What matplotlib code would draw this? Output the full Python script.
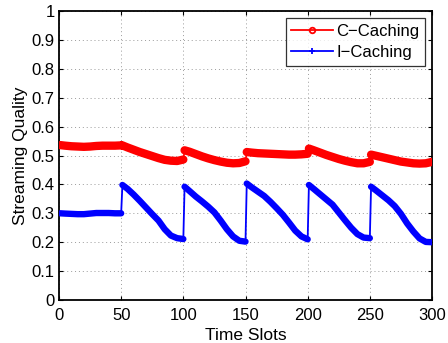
import numpy as np
import matplotlib
matplotlib.use("Agg")
import matplotlib.pyplot as plt
from matplotlib.lines import Line2D

plt.rcParams['font.family'] = ['Liberation Sans', 'DejaVu Sans']

# Time slots sampled (each 50-slot period: start, then every 5 slots)
time_slots = [
    1, 5, 10, 15, 20, 25, 30, 35, 40, 45, 50,
    51, 55, 60, 65, 70, 75, 80, 85, 90, 95, 100,
    101, 105, 110, 115, 120, 125, 130, 135, 140, 145, 150,
    151, 155, 160, 165, 170, 175, 180, 185, 190, 195, 200,
    201, 205, 210, 215, 220, 225, 230, 235, 240, 245, 250,
    251, 255, 260, 265, 270, 275, 280, 285, 290, 295, 300,
]

c_caching = [
    0.536, 0.534, 0.532, 0.531, 0.530, 0.531, 0.533, 0.534, 0.534, 0.534, 0.535,
    0.535, 0.528, 0.520, 0.512, 0.505, 0.498, 0.491, 0.485, 0.482, 0.481, 0.486,
    0.518, 0.513, 0.505, 0.497, 0.490, 0.484, 0.479, 0.475, 0.473, 0.474, 0.480,
    0.512, 0.510, 0.508, 0.507, 0.506, 0.505, 0.504, 0.503, 0.503, 0.504, 0.506,
    0.524, 0.518, 0.510, 0.502, 0.495, 0.488, 0.482, 0.477, 0.473, 0.473, 0.478,
    0.503, 0.499, 0.494, 0.489, 0.484, 0.479, 0.476, 0.473, 0.472, 0.473, 0.478,
]

i_caching = [
    0.300, 0.299, 0.298, 0.297, 0.297, 0.299, 0.301, 0.301, 0.301, 0.300, 0.300,
    0.398, 0.385, 0.365, 0.343, 0.320, 0.297, 0.275, 0.245, 0.223, 0.214, 0.211,
    0.392, 0.377, 0.358, 0.341, 0.323, 0.303, 0.275, 0.245, 0.220, 0.205, 0.202,
    0.403, 0.390, 0.375, 0.360, 0.340, 0.318, 0.295, 0.268, 0.240, 0.220, 0.210,
    0.398, 0.384, 0.366, 0.348, 0.330, 0.303, 0.276, 0.250, 0.228, 0.216, 0.214,
    0.392, 0.379, 0.362, 0.345, 0.325, 0.298, 0.265, 0.237, 0.213, 0.201, 0.200,
]

period_len = 11  # samples per 50-slot period

x_ticks = [0, 50, 100, 150, 200, 250, 300]
y_ticks = [0, 0.1, 0.2, 0.3, 0.4, 0.5, 0.6, 0.7, 0.8, 0.9, 1]
y_tick_labels = ['0', '0.1', '0.2', '0.3', '0.4', '0.5', '0.6', '0.7', '0.8', '0.9', '1']


def with_breaks(vals):
    arr = np.asarray(vals, dtype=float)
    parts = []
    for i in range(0, len(arr), period_len):
        parts.append(arr[i:i + period_len])
        parts.append([np.nan])
    return np.concatenate(parts)


fig = plt.figure(figsize=(4.48, 3.43), dpi=100)
ax = fig.add_axes([59 / 448, 43 / 343, 373 / 448, 289 / 343])

xb = with_breaks(time_slots)

# thin connecting lines (include the jumps)
ax.plot(time_slots, c_caching, color='#ff0000', lw=1.2, zorder=3)
ax.plot(time_slots, i_caching, color='#0000ff', lw=1.3, zorder=3)
# thick bands formed by dense markers
ax.plot(xb, with_breaks(c_caching), color='#ff0000', lw=6.0,
        solid_capstyle='round', solid_joinstyle='round', zorder=4)
ax.plot(xb, with_breaks(i_caching), color='#0000ff', lw=4.6,
        solid_capstyle='round', solid_joinstyle='round', zorder=4)

ax.set_xlim(0, 300)
ax.set_ylim(0, 1)
ax.set_xticks(x_ticks)
ax.set_yticks(y_ticks)
ax.set_yticklabels(y_tick_labels)
ax.tick_params(direction='in', length=3, width=0.8, top=True, right=True,
               labelsize=12, colors='black')
ax.tick_params(axis='x', pad=6)
ax.tick_params(axis='y', pad=3)
ax.grid(True, linestyle=(0, (1, 3)), color='#9a9a9a', lw=0.7)
for s in ax.spines.values():
    s.set_linewidth(1.3)
    s.set_color('black')

ax.set_xlabel('Time Slots', fontsize=12.5, labelpad=3)
ax.set_ylabel('Streaming Quality', fontsize=12.5, labelpad=3)

handles = [
    Line2D([], [], color='#ff0000', lw=1.3, marker='o', markersize=4,
           markerfacecolor='none', markeredgewidth=1.3),
    Line2D([], [], color='#0000ff', lw=1.3, marker='+', markersize=5,
           markeredgewidth=1.3),
]
leg = ax.legend(handles, ['C\u2212Caching', 'I\u2212Caching'], loc='upper right',
                fontsize=12, frameon=True, fancybox=False, edgecolor='black',
                borderpad=0.35, labelspacing=0.4, handlelength=2.5,
                handletextpad=0.2, borderaxespad=0.4)
leg.get_frame().set_linewidth(0.9)

fig.savefig('out.png', dpi=100)
